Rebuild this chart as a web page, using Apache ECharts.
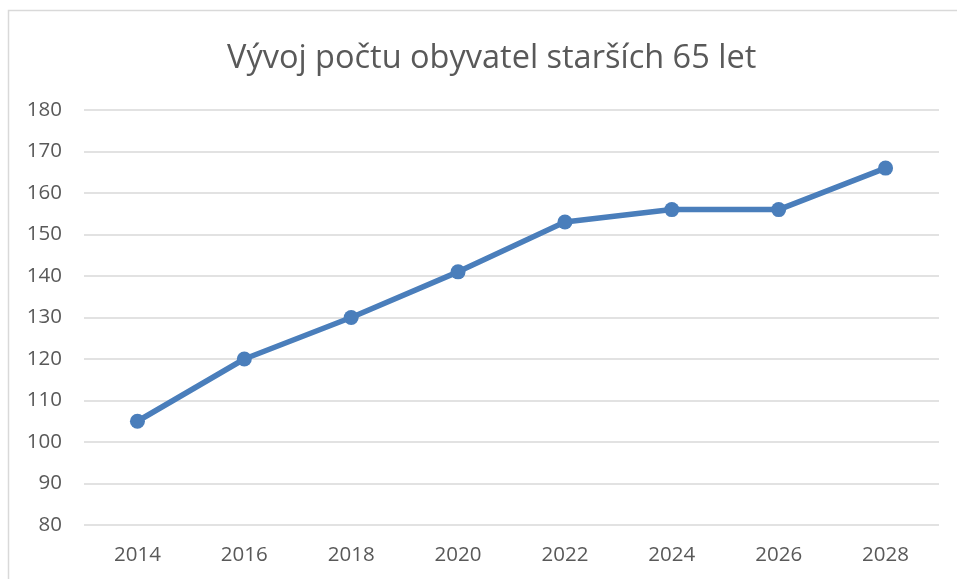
<!DOCTYPE html>
<html>
<head>
<meta charset="utf-8">
<style>
    html, body { margin: 0; padding: 0; background: #fff; }
    #chart { width: 957px; height: 579px; }
</style>
<script src="https://cdn.jsdelivr.net/npm/echarts@6/dist/echarts.min.js"></script>
</head>
<body>
<div id="chart"></div>
<script>
    // data
    var years = ['2014', '2016', '2018', '2020', '2022', '2024', '2026', '2028'];
    var seniors = [105, 120, 130, 141, 153, 156, 156, 166];
    var titleText = 'Vývoj počtu obyvatel starších 65 let';

    var myChart = echarts.init(document.getElementById('chart'));
    var font = '"Open Sans", "Noto Sans", sans-serif';

    var options = {
        backgroundColor: '#fff',
        animation: false,
        title: {
            text: titleText,
            left: 222,
            top: 37,
            textStyle: {
                fontFamily: font,
                fontSize: 32.5,
                fontWeight: 'normal',
                color: '#595959'
            }
        },
        graphic: [{
            type: 'rect',
            shape: { x: 8.5, y: 10.5, width: 1000, height: 1000 },
            style: { fill: 'none', stroke: '#d9d9d9', lineWidth: 1.5 },
            silent: true
        }],
        grid: {
            left: 84,
            right: 18,
            top: 110,
            bottom: 54
        },
        xAxis: {
            type: 'category',
            data: years,
            boundaryGap: true,
            axisLine: { show: false },
            axisTick: { show: false },
            axisLabel: {
                margin: 20,
                fontFamily: font,
                fontSize: 20.5,
                color: '#595959'
            }
        },
        yAxis: {
            type: 'value',
            min: 80,
            max: 180,
            interval: 10,
            axisLine: { show: false },
            axisTick: { show: false },
            splitLine: {
                lineStyle: { color: '#d9d9d9', width: 1.5 }
            },
            axisLabel: {
                margin: 22,
                fontFamily: font,
                fontSize: 20.5,
                color: '#595959'
            }
        },
        series: [{
            name: 'obyvatelé 65+',
            type: 'line',
            data: seniors,
            symbol: 'circle',
            symbolSize: 15,
            lineStyle: { color: '#4a7ebb', width: 5.5 },
            itemStyle: { color: '#4a7ebb' }
        }]
    };
    myChart.setOption(options);
</script>
</body>
</html>
